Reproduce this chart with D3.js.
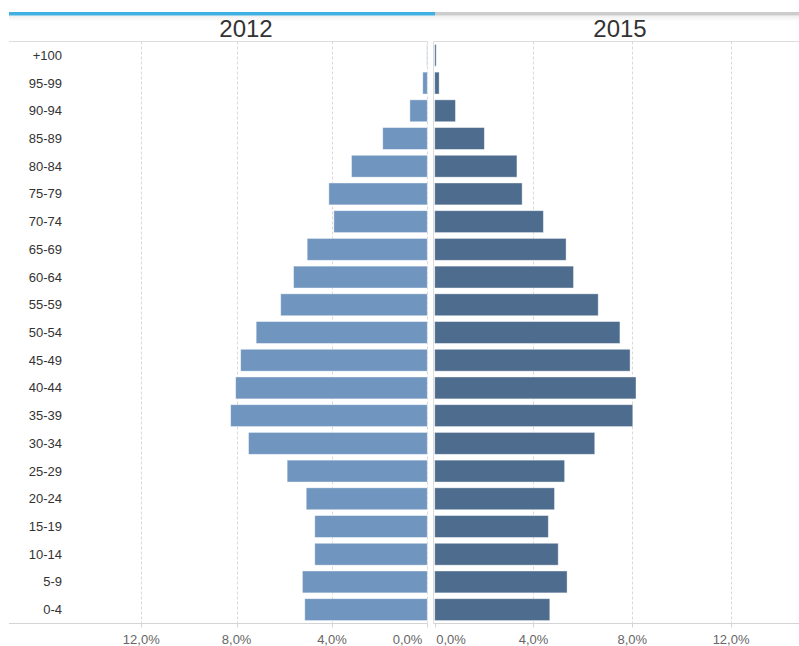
<!DOCTYPE html>
<html>
<head>
<meta charset="utf-8">
<script src="https://cdn.jsdelivr.net/npm/d3@7"></script>
<style>
  body { margin: 0; background: #fff; }
  svg { display: block; font-family: Arial, "Liberation Sans", sans-serif; }
</style>
</head>
<body>
<svg id="chart" width="799" height="646"></svg>
<script>
"use strict";

//Age groups, from top to bottom
var ages = ["+100", "95-99", "90-94", "85-89", "80-84", "75-79", "70-74", "65-69",
            "60-64", "55-59", "50-54", "45-49", "40-44", "35-39", "30-34", "25-29",
            "20-24", "15-19", "10-14", "5-9", "0-4"];
//Share of population (%) for each year, same order as ages
var val2012 = [0.02, 0.19, 0.73, 1.87, 3.18, 4.13, 3.92, 5.04, 5.61, 6.15, 7.18, 7.83,
               8.04, 8.25, 7.50, 5.88, 5.08, 4.72, 4.72, 5.24, 5.14];
var val2015 = [0.06, 0.18, 0.84, 2.01, 3.33, 3.54, 4.40, 5.32, 5.62, 6.62, 7.50, 7.91,
               8.15, 8.02, 6.48, 5.26, 4.85, 4.60, 5.00, 5.36, 4.66];
var years = ["2012", "2015"];
var ticks = [0, 4, 8, 12];

var svg = d3.select("#chart");
var plotTop = 41.5, plotBottom = 623.5;
var fmt = function(d) { return d.toFixed(1).replace(".", ",") + "%"; };

//Header strip : blue for the first year, grey for the second
var grad = svg.append("defs").append("linearGradient")
    .attr("id", "shade").attr("x1", 0).attr("x2", 0).attr("y1", 0).attr("y2", 1);
grad.append("stop").attr("offset", "0%").attr("stop-color", "#eeeeee");
grad.append("stop").attr("offset", "100%").attr("stop-color", "#ffffff");
svg.append("rect").attr("x", 9).attr("y", 15.5).attr("width", 790).attr("height", 6)
    .attr("fill", "url(#shade)");
svg.append("rect").attr("x", 435).attr("y", 12).attr("width", 364).attr("height", 3.5)
    .attr("fill", "#cccccc");
svg.append("rect").attr("x", 9).attr("y", 12).attr("width", 426).attr("height", 3.5)
    .attr("fill", "#3fb0e1");

var y = d3.scaleBand()
    .domain(ages)
    .range([plotTop, plotBottom])
    .paddingInner(0.21)
    .paddingOuter(0.105);

//Left panel goes right to left
var xL = d3.scaleLinear().domain([0, 17.55]).range([427.3, 9]);
var xR = d3.scaleLinear().domain([0, 14.75]).range([434.7, 799]);

var panels = [
  {x: xL, data: val2012, color: "#7096c0", x0: 9, x1: 427.3, title: years[0], tx: 246},
  {x: xR, data: val2015, color: "#4e6d8e", x0: 433.5, x1: 799, title: years[1], tx: 620}
];

panels.forEach(function(p, pi) {
  var g = svg.append("g");

  //Year title
  g.append("text")
      .attr("x", p.tx).attr("y", 36.5)
      .attr("text-anchor", "middle")
      .attr("font-size", "24px")
      .attr("fill", "#333")
      .text(p.title);

  //Frame lines
  g.append("line").attr("x1", p.x0).attr("x2", p.x1).attr("y1", plotTop).attr("y2", plotTop)
      .attr("stroke", "#dddddd");
  g.append("line").attr("x1", p.x0).attr("x2", p.x1).attr("y1", plotBottom).attr("y2", plotBottom)
      .attr("stroke", "#d4d4d4");
  if (pi == 1) {
    g.append("line").attr("x1", 433.5).attr("x2", 433.5).attr("y1", plotTop).attr("y2", plotBottom)
        .attr("stroke", "#dddddd");
  }

  //Dashed grid
  g.selectAll(".grid")
    .data(ticks.filter(function(t) { return pi == 0 || t > 0; }))
    .enter().append("line")
      .attr("x1", function(d) { return Math.round(p.x(d)) + 0.5; })
      .attr("x2", function(d) { return Math.round(p.x(d)) + 0.5; })
      .attr("y1", plotTop).attr("y2", plotBottom)
      .attr("stroke", "#d9d9d9")
      .attr("stroke-dasharray", "3,2");

  //Small ticks under the axis
  g.selectAll(".tk")
    .data(ticks)
    .enter().append("line")
      .attr("x1", function(d) { return Math.round(p.x(d)) + 0.5; })
      .attr("x2", function(d) { return Math.round(p.x(d)) + 0.5; })
      .attr("y1", plotBottom).attr("y2", plotBottom + 4)
      .attr("stroke", "#d4d4d4");

  //Tick labels (zero label is pushed inside the panel)
  g.selectAll(".lbl")
    .data(ticks)
    .enter().append("text")
      .attr("x", function(d) {
        if (d == 0) return pi == 0 ? p.x(d) - 5 : p.x(d) + 1.5;
        return p.x(d);
      })
      .attr("y", 644)
      .attr("text-anchor", function(d) {
        if (d == 0) return pi == 0 ? "end" : "start";
        return "middle";
      })
      .attr("font-size", "13px")
      .attr("fill", "#666")
      .text(fmt);

  //Bars
  g.selectAll("rect.bar")
    .data(p.data)
    .enter().append("rect")
      .attr("class", "bar")
      .attr("x", function(d) { return Math.min(p.x(0), p.x(d)); })
      .attr("width", function(d) { return Math.abs(p.x(d) - p.x(0)); })
      .attr("y", function(d, i) { return y(ages[i]); })
      .attr("height", y.bandwidth())
      .attr("fill", p.color)
      .attr("stroke", "#ffffff")
      .attr("stroke-opacity", 0.5)
      .attr("stroke-width", 0.8);
});

//Age labels inside the left panel
svg.append("g")
  .selectAll("text")
  .data(ages)
  .enter().append("text")
    .attr("x", 62)
    .attr("y", function(d) { return y(d) + y.bandwidth() / 2; })
    .attr("dy", "0.35em")
    .attr("text-anchor", "end")
    .attr("font-size", "13px")
    .attr("fill", "#333")
    .text(function(d) { return d; });
</script>
</body>
</html>
